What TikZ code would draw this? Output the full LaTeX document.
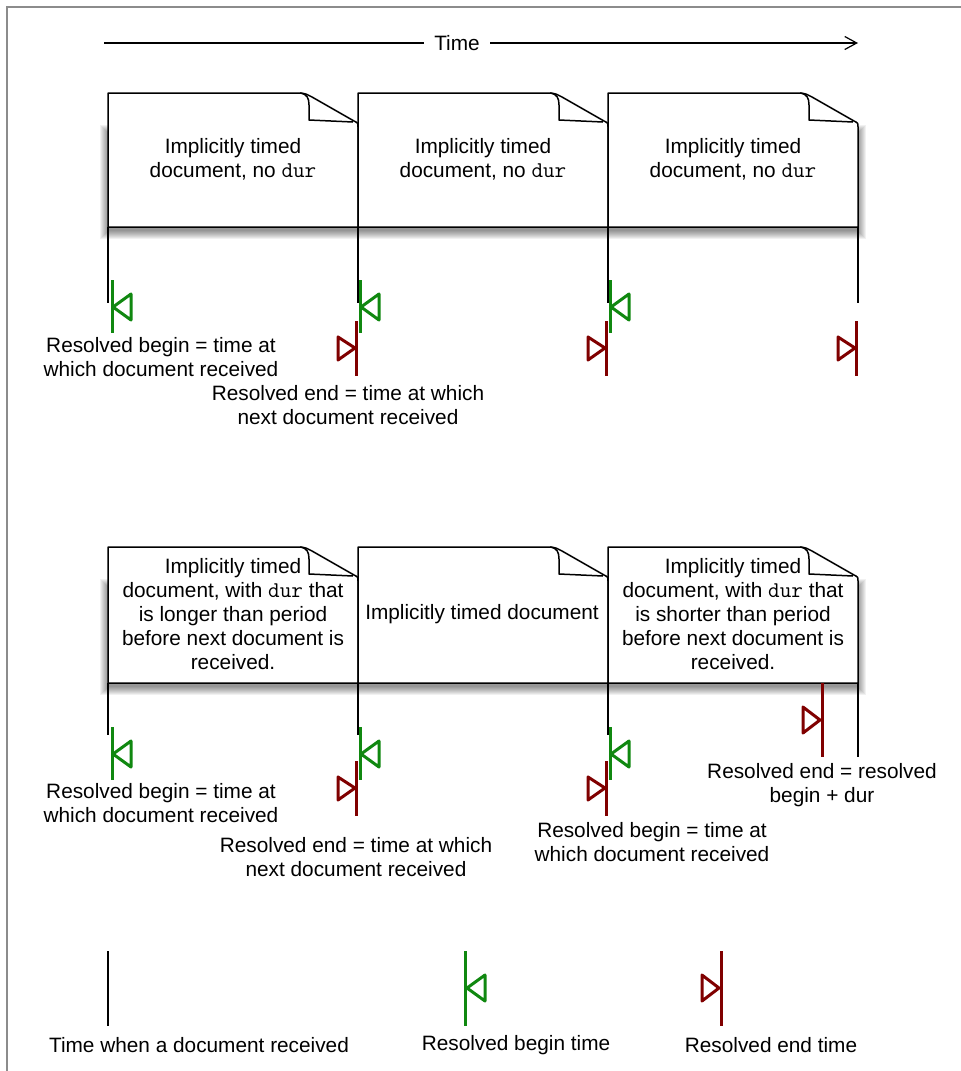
\documentclass[tikz,border=0pt]{standalone}
\usepackage{fontspec}
\setmainfont{Liberation Sans}
\usetikzlibrary{arrows.meta}
\definecolor{gmk}{RGB}{16,136,16}
\definecolor{rmk}{RGB}{128,0,0}
\definecolor{framegray}{RGB}{140,140,140}
\tikzset{
  docline/.style={black, line width=1.5pt, line join=round},
  tline/.style={black, line width=1.2pt},
  gmark/.style={gmk, line width=3pt, line join=round},
  rmark/.style={rmk, line width=3pt, line join=round},
  lbl/.style={align=center, font=\fontsize{20.8}{23.8}\selectfont, inner sep=0pt},
}
\newcommand\mono[1]{{\fontsize{22.5}{23.8}\selectfont\ttfamily #1}}
\newcommand\mydocshadow[4]{%
  \foreach \rr in {0,...,8}{\fill[black,opacity=0.055] ({#1-\rr},{#2+40-\rr}) rectangle ({#3+\rr},{#4+4+\rr});}}
\newcommand\mydoc[4]{%
  \filldraw[docline, fill=white] (#1,#2) -- ({#3-60},#2) .. controls ({#3-52},#2) and ({#3-50},{#2+2}) .. ({#3-46},{#2+4}) -- ({#3-4},{#2+28}) .. controls ({#3},{#2+30}) .. ({#3},{#2+34}) -- (#3,#4) -- (#1,#4) -- cycle;
  \draw[docline] ({#3-58},#2) .. controls ({#3-51},{#2+1}) and ({#3-49},{#2+5}) .. ({#3-49},{#2+12}) -- ({#3-49},{#2+27}) -- ({#3-5},{#2+29});}
\newcommand\gmarker[2]{%
  \draw[gmark] (#1,#2) -- (#1,{#2+53});
  \draw[gmark] ({#1+19},{#2+14}) -- ({#1+1},{#2+27}) -- ({#1+19},{#2+40}) -- cycle;}
\newcommand\rmarker[2]{%
  \draw[rmark] (#1,#2) -- (#1,{#2+55});
  \draw[rmark] ({#1-18},{#2+16}) -- ({#1-1},{#2+27}) -- ({#1-18},{#2+39}) -- cycle;}
\begin{document}
\begin{tikzpicture}[x=1pt,y=-1pt]
\useasboundingbox (0,0) rectangle (961,1071);
\fill[white] (0,0) rectangle (961,1071);
% frame
\draw[framegray, line width=2pt] (7,1080) -- (7,7) -- (970,7);
% time axis
\coordinate (ts) at (104,43);
\coordinate (te) at (858,43);
\draw[black, line width=1.2pt, -{Straight Barb[length=12pt,width=13pt,line width=1.2pt]}] (ts) -- (te);
\node[lbl, fill=white, inner xsep=10pt, inner ysep=3pt] (timelbl) at (457,43) {Time};
% ---------- top row ----------
\mydocshadow{108}{93}{858}{227}
\mydoc{108}{93}{358}{227}
\mydoc{358}{93}{608}{227}
\mydoc{608}{93}{858}{227}
\node[lbl] (d1) at (233,159) {Implicitly timed\\document, no \mono{dur}};
\node[lbl] (d2) at (483,159) {Implicitly timed\\document, no \mono{dur}};
\node[lbl] (d3) at (733,159) {Implicitly timed\\document, no \mono{dur}};
\foreach \xx/\nm in {108/a,358/b,608/c,858/d}{
  \coordinate (top\nm) at (\xx,227);
  \coordinate (topend\nm) at (\xx,303);
  \draw[tline] (top\nm) -- (topend\nm);
}
\gmarker{112}{280}
\gmarker{360}{280}
\gmarker{610}{280}
\rmarker{356}{321}
\rmarker{606}{321}
\rmarker{856}{321}
\node[lbl] (l1) at (161,357) {Resolved begin = time at\\which document received};
\node[lbl] (l2) at (348,405) {Resolved end = time at which\\next document received};
% ---------- bottom row ----------
\mydocshadow{108}{547}{858}{683}
\mydoc{108}{547}{358}{683}
\mydoc{358}{547}{608}{683}
\mydoc{608}{547}{858}{683}
\node[lbl] (e1) at (233,614) {Implicitly timed\\document, with \mono{dur} that\\is longer than period\\before next document is\\received.};
\node[lbl] (e2) at (482,614) {Implicitly timed document};
\node[lbl] (e3) at (733,614) {Implicitly timed\\document, with \mono{dur} that\\is shorter than period\\before next document is\\received.};
\foreach \xx/\nm in {108/a,358/b,608/c}{
  \coordinate (bot\nm) at (\xx,683);
  \coordinate (botend\nm) at (\xx,735);
  \draw[tline] (bot\nm) -- (botend\nm);
}
\coordinate (botd) at (858,683);
\coordinate (botendd) at (858,757);
\draw[tline] (botd) -- (botendd);
\gmarker{112}{727}
\gmarker{360}{727}
\gmarker{610}{727}
\rmarker{356}{761}
\rmarker{606}{761}
\draw[rmark] (822,683) -- (822,757);
\draw[rmark] (803,707) -- (820,720) -- (803,733) -- cycle;
\node[lbl] (m1) at (161,803) {Resolved begin = time at\\which document received};
\node[lbl] (m2) at (356,857) {Resolved end = time at which\\next document received};
\node[lbl] (m3) at (652,842) {Resolved begin = time at\\which document received};
\node[lbl] (m4) at (822,785) {Resolved end = resolved\\begin + dur};
% ---------- legend ----------
\coordinate (lga) at (108,951);
\coordinate (lgb) at (108,1026);
\draw[tline] (lga) -- (lgb);
\draw[gmark] (465,951) -- (465,1026);
\draw[gmark] (485,975) -- (467,988) -- (485,1001) -- cycle;
\draw[rmark] (721,951) -- (721,1026);
\draw[rmark] (702,975) -- (719,988) -- (702,1001) -- cycle;
\node[lbl] (k1) at (199,1045) {Time when a document received};
\node[lbl] (k2) at (516,1045) {Resolved begin time};
\node[lbl] (k3) at (771,1045) {Resolved end time};
\end{tikzpicture}
\end{document}
